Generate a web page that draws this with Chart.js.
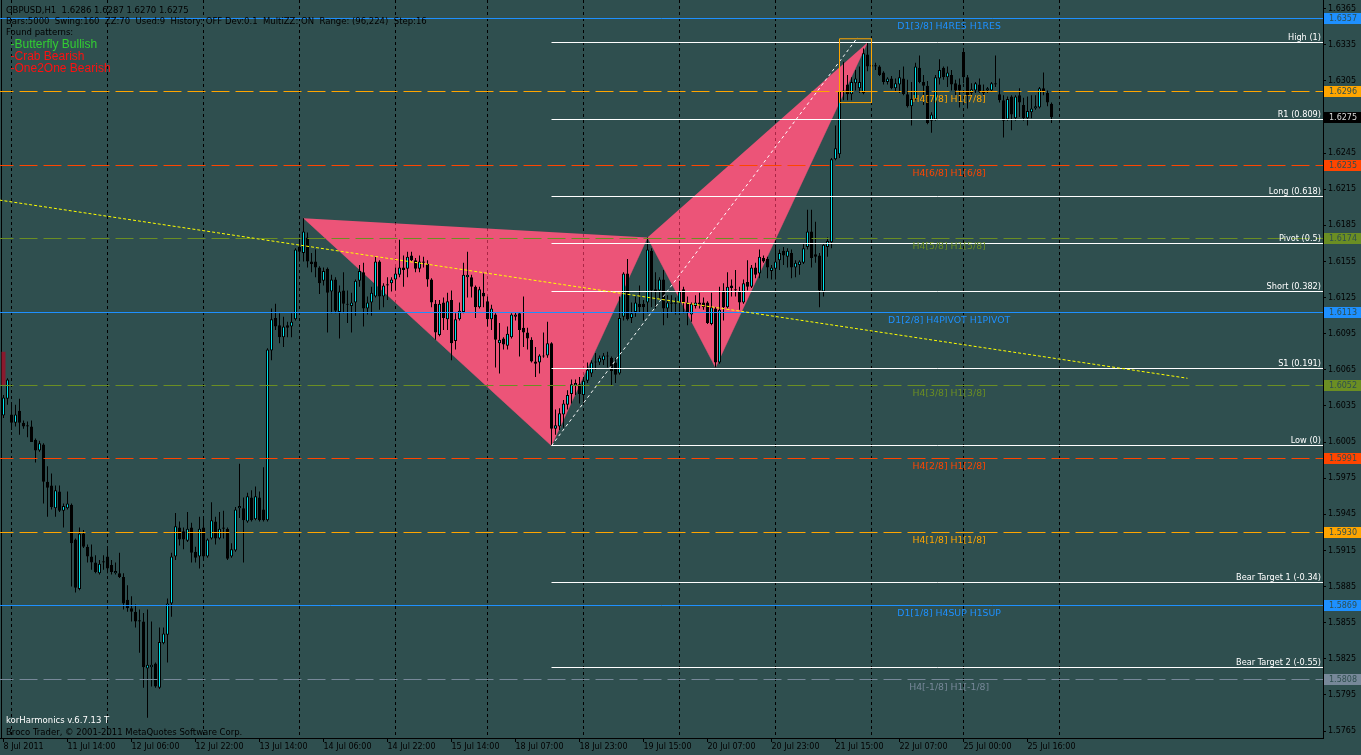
<!DOCTYPE html>
<html><head><meta charset="utf-8">
<script src="https://cdn.jsdelivr.net/npm/chart.js@4/dist/chart.umd.min.js"></script>
<style>html,body{margin:0;padding:0;background:#2F4F4F;overflow:hidden}canvas{display:block}</style>
</head><body>
<canvas id="c" width="1361" height="755"></canvas>
<script>
// ---------------- DATA (GBPUSD H1, bar index 0 = 8 Jul 2011 22:00) ----------------
const opens=[
1.6027,1.6041,1.6028,1.6021,1.6031,1.6021,1.6018,1.6018,1.6007,1.5998,
1.6003,1.5972,1.5969,1.5950,1.5964,1.5948,1.5950,1.5953,1.5924,1.5883,
1.5929,1.5918,1.5910,1.5905,1.5896,1.5905,1.5910,1.5903,1.5896,1.5896,
1.5893,1.5874,1.5867,1.5864,1.5857,1.5856,1.5817,1.5818,1.5821,1.5801,
1.5838,1.5845,1.5871,1.5910,1.5934,1.5931,1.5923,1.5934,1.5914,1.5910,
1.5934,1.5910,1.5925,1.5939,1.5925,1.5934,1.5933,1.5910,1.5915,1.5950,
1.5950,1.5939,1.5959,1.5941,1.5959,1.5949,1.5940,1.6081,1.6108,1.6102,
1.6092,1.6102,1.6101,1.6107,1.6167,1.6162,1.6175,1.6155,1.6155,1.6150,
1.6139,1.6149,1.6130,1.6140,1.6113,1.6131,1.6119,1.6118,1.6121,1.6139,
1.6146,1.6116,1.6121,1.6126,1.6155,1.6126,1.6136,1.6137,1.6140,1.6144,
1.6150,1.6149,1.6160,1.6156,1.6149,1.6155,1.6153,1.6140,1.6120,1.6094,
1.6121,1.6107,1.6123,1.6089,1.6107,1.6113,1.6142,1.6142,1.6134,1.6117,
1.6129,1.6122,1.6107,1.6111,1.6087,1.6091,1.6085,1.6092,1.6109,1.6112,
1.6100,1.6096,1.6090,1.6072,1.6071,1.6076,1.6077,1.6087,1.6016,1.6018,
1.6028,1.6036,1.6045,1.6052,1.6053,1.6044,1.6056,1.6062,1.6071,1.6071,
1.6073,1.6076,1.6075,1.6071,1.6062,1.6109,1.6145,1.6108,1.6113,1.6120,
1.6120,1.6121,1.6164,1.6132,1.6131,1.6140,1.6116,1.6121,1.6121,1.6121,
1.6132,1.6121,1.6111,1.6118,1.6121,1.6121,1.6121,1.6103,1.6116,1.6071,
1.6131,1.6117,1.6135,1.6131,1.6130,1.6121,1.6138,1.6134,1.6150,1.6145,
1.6158,1.6157,1.6147,1.6149,1.6156,1.6164,1.6159,1.6162,1.6150,1.6152,
1.6154,1.6167,1.6180,1.6161,1.6160,1.6130,1.6167,1.6171,1.6240,1.6244,
1.6297,1.6302,1.6294,1.6303,1.6299,1.6295,1.6327,1.6318,1.6318,1.6317,
1.6312,1.6304,1.6307,1.6299,1.6302,1.6307,1.6294,1.6284,1.6290,1.6316,
1.6304,1.6301,1.6272,1.6273,1.6307,1.6316,1.6308,1.6310,1.6303,1.6302,
1.6329,1.6308,1.6295,1.6297,1.6302,1.6297,1.6297,1.6297,1.6303,1.6294,
1.6289,1.6273,1.6292,1.6274,1.6293,1.6285,1.6274,1.6279,1.6282,1.6283,
1.6299,1.6295,1.6286];
const highs=[
1.6044,1.6058,1.6037,1.6036,1.6041,1.6023,1.6022,1.6023,1.6008,1.6006,
1.6004,1.5985,1.5979,1.5969,1.5969,1.5954,1.5964,1.5954,1.5925,1.5934,
1.5932,1.5920,1.5920,1.5911,1.5907,1.5911,1.5917,1.5907,1.5905,1.5913,
1.5896,1.5886,1.5877,1.5870,1.5866,1.5863,1.5866,1.5856,1.5822,1.5851,
1.5851,1.5875,1.5913,1.5946,1.5939,1.5934,1.5947,1.5938,1.5918,1.5943,
1.5942,1.5925,1.5955,1.5943,1.5947,1.5948,1.5934,1.5921,1.5951,1.5987,
1.5959,1.5963,1.5965,1.5968,1.5964,1.5984,1.6083,1.6116,1.6120,1.6112,
1.6109,1.6105,1.6112,1.6166,1.6175,1.6191,1.6179,1.6162,1.6165,1.6151,
1.6150,1.6150,1.6144,1.6142,1.6135,1.6146,1.6131,1.6129,1.6140,1.6152,
1.6154,1.6126,1.6134,1.6159,1.6156,1.6137,1.6142,1.6142,1.6150,1.6173,
1.6160,1.6163,1.6163,1.6158,1.6160,1.6159,1.6156,1.6141,1.6123,1.6123,
1.6125,1.6129,1.6131,1.6112,1.6121,1.6154,1.6163,1.6144,1.6135,1.6134,
1.6145,1.6126,1.6119,1.6112,1.6104,1.6092,1.6101,1.6112,1.6113,1.6113,
1.6126,1.6100,1.6092,1.6084,1.6078,1.6096,1.6105,1.6088,1.6032,1.6033,
1.6040,1.6048,1.6057,1.6057,1.6059,1.6059,1.6071,1.6073,1.6079,1.6077,
1.6079,1.6080,1.6076,1.6075,1.6126,1.6146,1.6157,1.6121,1.6126,1.6135,
1.6123,1.6175,1.6166,1.6146,1.6142,1.6148,1.6127,1.6127,1.6125,1.6139,
1.6134,1.6126,1.6121,1.6127,1.6129,1.6125,1.6122,1.6129,1.6117,1.6134,
1.6137,1.6146,1.6140,1.6148,1.6134,1.6140,1.6156,1.6152,1.6154,1.6165,
1.6160,1.6159,1.6152,1.6169,1.6165,1.6167,1.6166,1.6165,1.6156,1.6156,
1.6170,1.6198,1.6198,1.6188,1.6162,1.6170,1.6175,1.6241,1.6268,1.6297,
1.6321,1.6310,1.6308,1.6314,1.6317,1.6332,1.6337,1.6322,1.6320,1.6318,
1.6313,1.6308,1.6309,1.6307,1.6314,1.6317,1.6306,1.6304,1.6320,1.6326,
1.6310,1.6305,1.6279,1.6310,1.6323,1.6317,1.6317,1.6314,1.6306,1.6307,
1.6331,1.6310,1.6303,1.6304,1.6307,1.6302,1.6300,1.6304,1.6326,1.6307,
1.6293,1.6292,1.6293,1.6293,1.6299,1.6291,1.6292,1.6293,1.6293,1.6300,
1.6312,1.6297,1.6287];
const lows=[
1.6025,1.6036,1.6015,1.6018,1.6011,1.6016,1.6009,1.6005,1.5988,1.5997,
1.5954,1.5943,1.5949,1.5943,1.5947,1.5934,1.5949,1.5885,1.5880,1.5882,
1.5917,1.5905,1.5899,1.5896,1.5895,1.5899,1.5896,1.5895,1.5895,1.5892,
1.5866,1.5864,1.5856,1.5851,1.5830,1.5801,1.5776,1.5802,1.5801,1.5800,
1.5837,1.5822,1.5860,1.5907,1.5919,1.5916,1.5922,1.5905,1.5905,1.5900,
1.5907,1.5909,1.5924,1.5920,1.5924,1.5925,1.5907,1.5909,1.5914,1.5942,
1.5905,1.5938,1.5939,1.5940,1.5939,1.5939,1.5939,1.6073,1.6098,1.6087,
1.6084,1.6092,1.6092,1.6106,1.6155,1.6155,1.6150,1.6146,1.6142,1.6128,
1.6135,1.6096,1.6112,1.6112,1.6091,1.6112,1.6104,1.6096,1.6110,1.6134,
1.6101,1.6111,1.6110,1.6125,1.6115,1.6117,1.6123,1.6130,1.6131,1.6142,
1.6134,1.6142,1.6155,1.6146,1.6146,1.6150,1.6134,1.6117,1.6090,1.6093,
1.6098,1.6098,1.6073,1.6082,1.6106,1.6112,1.6125,1.6125,1.6108,1.6116,
1.6117,1.6101,1.6098,1.6067,1.6062,1.6082,1.6082,1.6091,1.6106,1.6076,
1.6084,1.6082,1.6071,1.6059,1.6062,1.6075,1.6075,1.6002,1.6011,1.6015,
1.6017,1.6032,1.6037,1.6044,1.6037,1.6036,1.6054,1.6059,1.6065,1.6069,
1.6069,1.6067,1.6052,1.6054,1.6061,1.6106,1.6106,1.6104,1.6109,1.6113,
1.6106,1.6112,1.6117,1.6116,1.6123,1.6102,1.6108,1.6113,1.6111,1.6112,
1.6112,1.6102,1.6105,1.6116,1.6116,1.6115,1.6103,1.6102,1.6067,1.6070,
1.6106,1.6116,1.6126,1.6126,1.6115,1.6120,1.6131,1.6133,1.6141,1.6141,
1.6154,1.6141,1.6140,1.6140,1.6148,1.6152,1.6150,1.6141,1.6142,1.6144,
1.6153,1.6165,1.6150,1.6154,1.6117,1.6126,1.6159,1.6166,1.6239,1.6241,
1.6289,1.6289,1.6289,1.6297,1.6295,1.6294,1.6313,1.6312,1.6314,1.6309,
1.6302,1.6302,1.6298,1.6296,1.6295,1.6293,1.6283,1.6268,1.6289,1.6303,
1.6285,1.6269,1.6262,1.6272,1.6302,1.6306,1.6300,1.6297,1.6293,1.6283,
1.6303,1.6282,1.6292,1.6295,1.6295,1.6293,1.6295,1.6296,1.6300,1.6287,
1.6258,1.6272,1.6264,1.6272,1.6275,1.6272,1.6268,1.6274,1.6281,1.6282,
1.6293,1.6284,1.6270];
const closes=[
1.6042,1.6057,1.6021,1.6028,1.6021,1.6018,1.6019,1.6005,1.5998,1.6004,
1.5972,1.5967,1.5951,1.5965,1.5948,1.5952,1.5954,1.5921,1.5884,1.5929,
1.5918,1.5910,1.5905,1.5897,1.5904,1.5906,1.5900,1.5897,1.5898,1.5893,
1.5871,1.5867,1.5864,1.5856,1.5856,1.5818,1.5820,1.5820,1.5802,1.5839,
1.5846,1.5871,1.5910,1.5935,1.5924,1.5924,1.5933,1.5913,1.5909,1.5933,
1.5910,1.5924,1.5940,1.5925,1.5933,1.5933,1.5908,1.5916,1.5949,1.5952,
1.5940,1.5960,1.5940,1.5960,1.5940,1.5940,1.6082,1.6107,1.6101,1.6092,
1.6101,1.6100,1.6105,1.6165,1.6163,1.6180,1.6155,1.6153,1.6150,1.6137,
1.6147,1.6129,1.6140,1.6114,1.6130,1.6120,1.6120,1.6121,1.6139,1.6147,
1.6116,1.6121,1.6129,1.6155,1.6126,1.6135,1.6135,1.6140,1.6145,1.6150,
1.6148,1.6159,1.6156,1.6149,1.6155,1.6154,1.6140,1.6121,1.6096,1.6120,
1.6108,1.6122,1.6087,1.6107,1.6114,1.6144,1.6144,1.6134,1.6117,1.6132,
1.6126,1.6107,1.6116,1.6090,1.6090,1.6086,1.6095,1.6111,1.6111,1.6098,
1.6096,1.6091,1.6072,1.6070,1.6077,1.6077,1.6087,1.6016,1.6019,1.6029,
1.6037,1.6044,1.6053,1.6054,1.6045,1.6056,1.6065,1.6071,1.6072,1.6075,
1.6077,1.6077,1.6064,1.6061,1.6108,1.6145,1.6107,1.6112,1.6121,1.6117,
1.6117,1.6165,1.6131,1.6130,1.6140,1.6116,1.6121,1.6120,1.6120,1.6130,
1.6121,1.6112,1.6120,1.6121,1.6119,1.6117,1.6104,1.6117,1.6071,1.6115,
1.6117,1.6134,1.6133,1.6132,1.6121,1.6137,1.6134,1.6150,1.6144,1.6159,
1.6155,1.6150,1.6150,1.6155,1.6162,1.6160,1.6164,1.6150,1.6154,1.6155,
1.6166,1.6180,1.6158,1.6159,1.6131,1.6169,1.6172,1.6240,1.6249,1.6296,
1.6296,1.6294,1.6304,1.6307,1.6304,1.6328,1.6317,1.6317,1.6317,1.6310,
1.6304,1.6307,1.6299,1.6303,1.6308,1.6294,1.6284,1.6290,1.6317,1.6304,
1.6301,1.6270,1.6277,1.6308,1.6314,1.6308,1.6312,1.6302,1.6297,1.6297,
1.6308,1.6293,1.6298,1.6303,1.6296,1.6295,1.6299,1.6303,1.6302,1.6289,
1.6272,1.6290,1.6277,1.6292,1.6287,1.6274,1.6280,1.6282,1.6284,1.6299,
1.6296,1.6287,1.6275];

const tickBars=[0,16,32,48,64,80,96,112,128,144,160,176,192,208,224,240,256];
const tickLabels=["8 Jul 2011","11 Jul 14:00","12 Jul 06:00","12 Jul 22:00","13 Jul 14:00","14 Jul 06:00","14 Jul 22:00","15 Jul 14:00","18 Jul 07:00","18 Jul 23:00","19 Jul 15:00","20 Jul 07:00","20 Jul 23:00","21 Jul 15:00","22 Jul 07:00","25 Jul 00:00","25 Jul 16:00"];
const daySepBars=[2,26,50,74,98,121,145,169,193,217,240,264];
const yTicks=[1.6365,1.6335,1.6305,1.6275,1.6245,1.6215,1.6185,1.6155,1.6125,1.6095,1.6065,1.6035,1.6005,1.5975,1.5945,1.5915,1.5885,1.5855,1.5825,1.5795,1.5765];

const murreyValues=[1.6357,1.6296,1.6235,1.6174,1.6113,1.6052,1.5991,1.5930,1.5869,1.5808];
const murreyLabels=["D1[3/8] H4RES H1RES","H4[7/8] H1[7/8]","H4[6/8] H1[6/8]","H4[5/8] H1[5/8]","D1[2/8] H4PIVOT H1PIVOT","H4[3/8] H1[3/8]","H4[2/8] H1[2/8]","H4[1/8] H1[1/8]","D1[1/8] H4SUP H1SUP","H4[-1/8] H1[-1/8]"];
const murreyColors=["#1E90FF","#FFA500","#FF4500","#6B8E23","#1E90FF","#6B8E23","#FF4500","#FFA500","#1E90FF","#778899"];
const murreyDashed=[false,true,true,true,false,true,true,true,false,true];

const fibValues=[1.6337,1.6273,1.6209,1.6170,1.6130,1.6066,1.6002,1.5888,1.5818];
const fibLabels=["High (1)","R1 (0.809)","Long (0.618)","Pivot (0.5)","Short (0.382)","S1 (0.191)","Low (0)","Bear Target 1 (-0.34)","Bear Target 2 (-0.55)"];
const fibStartBar=137;

const patternBars=[75,137,161,178,216];      // X, A, B, C, D
const patternPrices=[1.6191,1.6002,1.6175,1.6067,1.6337];
const trendBars=[-1,296];
const trendPrices=[1.6206,1.6058];
const adBars=[137,213.5];
const adPrices=[1.6002,1.6341];
const boxBars=[209,217];
const boxPrices=[1.6287,1.6340];
const markBar=0;
const markPrices=[1.6052,1.6080];

const priceBoxValues=[1.6357,1.6296,1.6275,1.6235,1.6174,1.6113,1.6052,1.5991,1.5930,1.5869,1.5808];
const priceBoxColors=["#1E90FF","#FFA500","#000000","#FF4500","#6B8E23","#1E90FF","#6B8E23","#FF4500","#FFA500","#1E90FF","#778899"];

const infoLine1="GBPUSD,H1  1.6286 1.6287 1.6270 1.6275";
const infoLine2="Bars:5000  Swing:160  ZZ:70  Used:9  History: OFF Dev:0.1  MultiZZ: ON  Range: (96,224)  Step:16";
const infoLine3="Found patterns:";
const patternNames=["-Butterfly Bullish","-Crab Bearish","-One2One Bearish"];
const patternNameColors=["#32CD32","#FF1010","#FF1010"];
const footer1="korHarmonics v.6.7.13 T";
const footer2="Broco Trader, \u00A9 2001-2011 MetaQuotes Software Corp.";

// ---------------- STYLE / LAYOUT ----------------
const BG='#2F4F4F', PINK='#EC5478', BULL='#00E5EE';
const SMALL="DejaVu Sans";
const LABEL_BAR=236.4;

const bars=opens.map((_,i)=>i);
const wickData=bars.map(i=>({x:i,y:[lows[i],highs[i]]}));
const bodyData=bars.map(i=>({x:i,y:[Math.min(opens[i],closes[i]),Math.max(opens[i],closes[i])]}));
const bodyColors=bars.map(i=>closes[i]>opens[i]?BULL:'#000000');

const datasets=[];
datasets.push({type:'line',label:'pinkA',data:[0,1,2].map(k=>({x:patternBars[k],y:patternPrices[k]})),
  fill:'shape',backgroundColor:PINK,borderColor:PINK,borderWidth:0.5,pointRadius:0,tension:0,order:100});
datasets.push({type:'line',label:'pinkB',data:[2,3,4].map(k=>({x:patternBars[k],y:patternPrices[k]})),
  fill:'shape',backgroundColor:PINK,borderColor:PINK,borderWidth:0.5,pointRadius:0,tension:0,order:99});
datasets.push({type:'bar',label:'mark',data:[{x:markBar,y:markPrices}],backgroundColor:'#8B1A2E',barThickness:4,grouped:false,inflateAmount:0,borderWidth:0,order:98});
datasets.push({type:'bar',label:'wick',data:wickData,backgroundColor:'#000',barThickness:1,grouped:false,inflateAmount:0,borderWidth:0,order:50});
datasets.push({type:'bar',label:'body',data:bodyData,backgroundColor:bodyColors,borderColor:'#000',borderWidth:1,borderSkipped:false,barThickness:3,minBarLength:1,grouped:false,inflateAmount:0,order:49});
murreyValues.forEach((v,k)=>datasets.push({type:'line',label:'m'+k,level:v,data:[{x:-2,y:v},{x:335,y:v}],borderColor:murreyColors[k],borderWidth:1,borderDash:murreyDashed[k]?[18,6]:[],pointRadius:0,fill:false,order:20}));
fibValues.forEach((v,k)=>datasets.push({type:'line',label:'f'+k,level:v,data:[{x:fibStartBar,y:v},{x:335,y:v}],borderColor:'#FFFFFF',borderWidth:1,pointRadius:0,fill:false,order:19}));
datasets.push({type:'line',label:'trend',data:trendBars.map((b,k)=>({x:b,y:trendPrices[k]})),borderColor:'#FFFF00',borderWidth:1,borderDash:[3,2],pointRadius:0,fill:false,order:10});
datasets.push({type:'line',label:'ad',data:adBars.map((b,k)=>({x:b,y:adPrices[k]})),borderColor:'#FFFFFF',borderWidth:1,borderDash:[3,3],pointRadius:0,fill:false,order:9});
datasets.push({type:'line',label:'box',data:[{x:boxBars[0],y:boxPrices[0]},{x:boxBars[0],y:boxPrices[1]},{x:boxBars[1],y:boxPrices[1]},{x:boxBars[1],y:boxPrices[0]},{x:boxBars[0],y:boxPrices[0]}],borderColor:'#FFA500',borderWidth:1,pointRadius:0,fill:false,tension:0,order:8});

function X(ch,b){return ch.scales.x.getPixelForValue(b);}
function Y(ch,p){return ch.scales.y.getPixelForValue(p);}

function drawGrid(ch,color){
  const ctx=ch.ctx,a=ch.chartArea;
  ctx.save();ctx.strokeStyle=color;ctx.lineWidth=1;ctx.setLineDash([3,3]);
  daySepBars.forEach(b=>{const x=Math.floor(X(ch,b))+0.5;ctx.beginPath();ctx.moveTo(x,a.top);ctx.lineTo(x,a.bottom);ctx.stroke();});
  ctx.restore();
}
const mtPlugin={
  id:'mt',
  beforeDatasetsDraw(ch){
    const ctx=ch.ctx,a=ch.chartArea;
    drawGrid(ch,'#000');
    ctx.save();ctx.fillStyle='#000';ctx.fillRect(1,a.top,1,a.bottom-a.top);ctx.restore();
  },
  beforeDatasetDraw(ch,args){
    const ds=ch.data.datasets[args.index];
    if(ds.level!==undefined){
      const y=Y(ch,ds.level);const ctx=ch.ctx;ctx.save();ctx.translate(0,Math.floor(y)+0.5-y);
    }
  },
  afterDatasetDraw(ch,args){
    const ds=ch.data.datasets[args.index];
    if(ds.level!==undefined){ch.ctx.restore();return;}
    if(ds.label!=='pinkB')return;
    const ctx=ch.ctx;
    ctx.save();ctx.beginPath();
    [[0,1,2],[2,3,4]].forEach(t=>{t.forEach((k,j)=>{const x=X(ch,patternBars[k]),y=Y(ch,patternPrices[k]);j?ctx.lineTo(x,y):ctx.moveTo(x,y);});ctx.closePath();});
    ctx.clip();drawGrid(ch,'rgba(120,0,30,0.55)');ctx.restore();
  },
  afterDatasetsDraw(ch){
    const ctx=ch.ctx,a=ch.chartArea;
    ctx.save();
    ctx.font="9.3px '"+SMALL+"'";ctx.textAlign='center';ctx.textBaseline='alphabetic';
    murreyValues.forEach((v,k)=>{ctx.fillStyle=murreyColors[k];ctx.fillText(murreyLabels[k],X(ch,LABEL_BAR),Math.floor(Y(ch,v))+11);});
    ctx.font="8.2px '"+SMALL+"'";ctx.textAlign='right';ctx.fillStyle='#FFFFFF';
    fibValues.forEach((v,k)=>ctx.fillText(fibLabels[k],a.right-2,Math.floor(Y(ch,v))-2));
    ctx.textAlign='left';ctx.font="8.5px '"+SMALL+"'";ctx.fillStyle='#000';
    ctx.fillText(infoLine1,6,12.5);ctx.fillText(infoLine2,6,23.5);ctx.fillText(infoLine3,6,35);
    ctx.font="12px 'Liberation Sans'";
    patternNames.forEach((t,k)=>{ctx.fillStyle=patternNameColors[k];ctx.fillText(t,10.5,48.3+k*11.7);});
    ctx.font="8.5px '"+SMALL+"'";
    ctx.fillStyle='#FFFFFF';ctx.fillText(footer1,6,723);
    ctx.fillStyle='#000';ctx.fillText(footer2,6,735);
    ctx.restore();
  },
  afterDraw(ch){
    const ctx=ch.ctx,a=ch.chartArea;
    ctx.save();ctx.font="8px '"+SMALL+"'";ctx.textAlign='left';ctx.textBaseline='middle';
    priceBoxValues.forEach((v,k)=>{
      const y=Math.floor(Y(ch,v));ctx.fillStyle=priceBoxColors[k];ctx.fillRect(a.right+1,y-5,ch.width-a.right-1,11);
      ctx.fillStyle=priceBoxColors[k]==='#000000'?'#D8D8D8':'#2F4F4F';ctx.fillText(v.toFixed(4),a.right+6,y+1);
    });
    ctx.restore();
  }
};

new Chart(document.getElementById('c'),{
  type:'bar',
  data:{datasets},
  options:{
    responsive:false,animation:false,devicePixelRatio:1,events:[],
    layout:{padding:0},
    plugins:{legend:{display:false},tooltip:{enabled:false},title:{display:false}},
    scales:{
      x:{type:'linear',min:-0.875,max:329.875,offset:false,bounds:'data',
        grid:{display:true,drawOnChartArea:false,drawTicks:true,tickLength:4,color:'#000',offset:false},
        border:{display:true,color:'#000',width:1},
        ticks:{autoSkip:false,maxRotation:0,minRotation:0,align:'start',padding:0,color:'#000',font:{family:SMALL,size:8},
          callback:(v)=>tickLabels[tickBars.indexOf(v)]},
        afterBuildTicks:s=>{s.ticks=tickBars.map(v=>({value:v}));},
        afterFit:s=>{s.height=17;s.paddingLeft=0;s.paddingRight=0;}
      },
      y:{type:'linear',position:'right',min:1.57592,max:1.63722,bounds:'data',beginAtZero:false,
        grid:{display:true,drawOnChartArea:false,drawTicks:true,tickLength:3,color:'#000'},
        border:{display:true,color:'#000',width:1},
        ticks:{padding:2,color:'#000',font:{family:SMALL,size:8},callback:v=>v.toFixed(4)},
        afterBuildTicks:s=>{s.ticks=yTicks.map(v=>({value:v}));},
        afterFit:s=>{s.width=38;s.paddingTop=0;s.paddingBottom=0;}
      }
    }
  },
  plugins:[mtPlugin]
});
</script>
</body></html>
